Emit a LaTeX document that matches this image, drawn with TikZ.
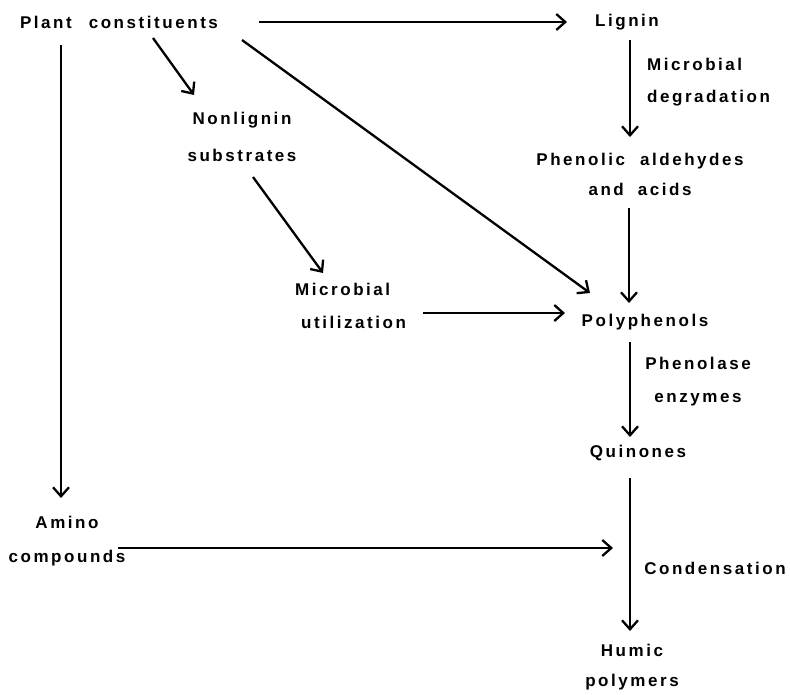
\documentclass[tikz,border=0pt]{standalone}
\usepackage{fontspec}
\newfontfamily\labfont{Liberation Sans Bold}[LetterSpace=15]
\usetikzlibrary{arrows.meta,calc}
\begin{document}
\begin{tikzpicture}[x=1pt,y=-1pt,
  lbl/.style={inner sep=0pt,font=\labfont\fontsize{17}{30}\selectfont},
  arr/.style={line width=2.3pt,-{Straight Barb[length=9pt,width=16pt,line width=2.3pt]}}]
\useasboundingbox (0,0) rectangle (790,694);
% nodes
\node[lbl] (plant) at (119,22) {Plant\hspace{17pt}constituents};
\node[lbl] (lignin) at (627,22) {Lignin};
\node[lbl,align=left,anchor=west] (micdeg) at (647,82) {Microbial\\[2pt]degradation};
\node[lbl,align=center] (phenolic) at (640,174) {Phenolic\hspace{15pt}aldehydes\\and\hspace{14pt}acids};
\node[lbl,align=center] (nonlignin) at (242,137) {Nonlignin\\[7pt]substrates};
\node[lbl,align=left,anchor=west] (micutil) at (295,306) {Microbial\\[3pt]\hspace*{6pt}utilization};
\node[lbl] (poly) at (645,322) {Polyphenols};
\node[lbl,align=center] (phenolase) at (698,382) {Phenolase\\[3pt]enzymes};
\node[lbl] (quinones) at (638,453) {Quinones};
\node[lbl,align=center] (amino) at (67,541) {Amino\\[4pt]compounds};
\node[lbl] (condensation) at (715,568) {Condensation};
\node[lbl,align=center] (humic) at (632,667) {Humic\\polymers};
\coordinate (join) at (613,548);
% connectors
\draw[arr] ($(plant)+(140,0)$) -- ($(lignin)+(-60,0)$);
\draw[arr] ($(plant)+(34,16)$) -- ($(nonlignin)+(-48,-42)$);
\draw[arr] ($(plant)+(123,18)$) -- ($(poly)+(-55,-29)$);
\draw[arr] ($(plant)+(-58,23)$) -- ($(amino)+(-6,-43)$);
\draw[arr] ($(lignin)+(3,18)$) -- ($(phenolic)+(-10,-37)$);
\draw[arr] ($(phenolic)+(-11,34)$) -- ($(poly)+(-16,-19)$);
\draw[arr] ($(nonlignin)+(11,40)$) -- ($(micutil.west)+(28,-33)$);
\draw[arr] ($(micutil.west)+(128,7)$) -- ($(poly)+(-80,-9)$);
\draw[arr] ($(poly)+(-15,20)$) -- ($(quinones)+(-8,-16)$);
\draw[arr] ($(amino)+(51,7)$) -- (join);
\draw[arr] ($(quinones)+(-8,25)$) -- ($(humic)+(-2,-36)$);
\end{tikzpicture}
\end{document}
